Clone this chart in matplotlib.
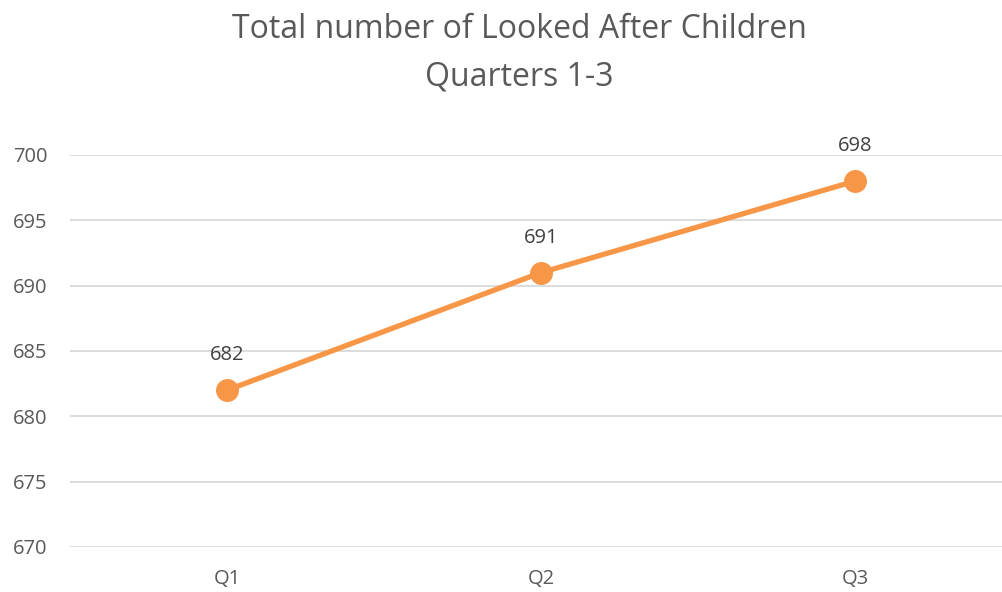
import matplotlib
matplotlib.use("Agg")
import matplotlib.pyplot as plt

quarters = ["Q1", "Q2", "Q3"]
children = [682, 691, 698]
y_ticks = [670, 675, 680, 685, 690, 695, 700]
title_lines = ["Total number of Looked After Children", "Quarters 1-3"]

plt.rcParams["font.family"] = ["Open Sans", "DejaVu Sans"]

fig = plt.figure(figsize=(10.03, 5.92), dpi=100)
ax = fig.add_axes([70 / 1003, 45 / 592, 942 / 1003, 392 / 592])

x = list(range(len(quarters)))
ax.plot(x, children, color="#F79646", lw=3.8, marker="o", ms=15.5,
        markeredgecolor="#F79646", markerfacecolor="#F79646",
        solid_capstyle="round", zorder=3)

for xi, v in zip(x, children):
    ax.annotate(str(v), (xi, v), xytext=(0, 25), textcoords="offset points",
                ha="center", va="center", fontsize=14.5, color="#404040")

ax.set_xlim(-0.5, len(quarters) - 0.5)
ax.set_ylim(y_ticks[0], y_ticks[-1])
ax.set_yticks(y_ticks)
ax.set_xticks(x)
ax.set_xticklabels(quarters)
ax.grid(axis="y", color="#D9D9D9", lw=1.3)
ax.set_axisbelow(True)
for s in ax.spines.values():
    s.set_visible(False)
ax.tick_params(axis="both", length=0, labelsize=14.5, labelcolor="#595959")
ax.tick_params(axis="y", pad=16)
ax.tick_params(axis="x", pad=16)

# two-line centred title
fig.text(0.518, 1 - 38 / 592, title_lines[0], ha="center", va="baseline",
         fontsize=23, color="#595959")
fig.text(0.518, 1 - 85 / 592, title_lines[1], ha="center", va="baseline",
         fontsize=23, color="#595959")

fig.savefig("out.png", dpi=100)
